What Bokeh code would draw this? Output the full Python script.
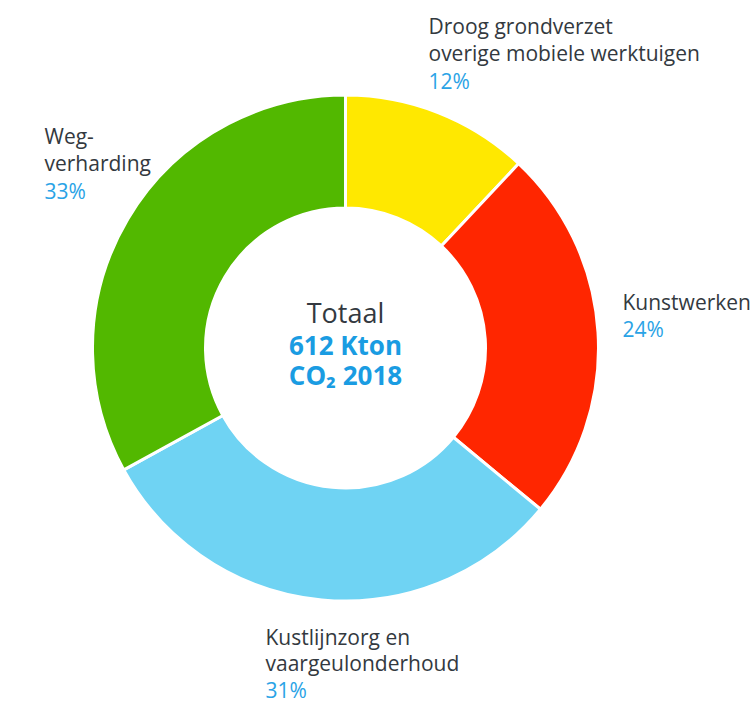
import math
from bokeh.plotting import figure
from bokeh.models import ColumnDataSource
from bokeh.core.properties import value
from bokeh.embed import file_html
from bokeh.resources import INLINE

# ---- data ----
categories = ["Droog grondverzet overige mobiele werktuigen", "Kunstwerken",
              "Kustlijnzorg en vaargeulonderhoud", "Wegverharding"]
shares = [12, 24, 31, 33]
label_lines = [["Droog grondverzet", "overige mobiele werktuigen"],
               ["Kunstwerken"],
               ["Kustlijnzorg en", "vaargeulonderhoud"],
               ["Weg-", "verharding"]]
colors = ["#ffe800", "#ff2600", "#6fd3f3", "#52b800"]
center_title = "Totaal"
center_lines = ["612 Kton", "CO\u2082 2018"]

# ---- layout (pixels) ----
W, H = 754, 704
cx, cy = 345, H - 347.5
r_in, r_out = 140, 253
label_anchor = [(428, H - 25), (622, H - 301), (265, H - 636), (44, H - 135)]
line_steps = [27.5, 27.5, 26.5, 27.5]
FONT = "Open Sans"
DARK = "#333940"
BLUE = "#2aa3e6"
CBLUE = "#1a9ce2"

p = figure(width=W, height=H, x_range=(0, W), y_range=(0, H),
           output_backend="svg", toolbar_location=None, min_border=0)
p.axis.visible = False
p.grid.visible = False
p.outline_line_color = None
p.background_fill_color = "white"
p.border_fill_color = "white"

total = sum(shares)
starts, ends = [], []
cum = 0
for s in shares:
    a0 = math.pi / 2 - 2 * math.pi * cum / total
    cum += s
    a1 = math.pi / 2 - 2 * math.pi * cum / total
    starts.append(a1)
    ends.append(a0)

src = ColumnDataSource(dict(start=starts, end=ends, color=colors,
                            x=[cx] * len(shares), y=[cy] * len(shares)))
p.annular_wedge(x="x", y="y", inner_radius=r_in, outer_radius=r_out,
                start_angle="start", end_angle="end", fill_color="color",
                line_color="white", line_width=3, source=src)

# labels
tx, ty, tt, tc = [], [], [], []
for (ax, ay), step, lines, s in zip(label_anchor, line_steps, label_lines, shares):
    for i, ln in enumerate(lines):
        tx.append(ax); ty.append(ay - i * step); tt.append(ln); tc.append(DARK)
    tx.append(ax); ty.append(ay - len(lines) * step); tt.append(f"{s}%"); tc.append(BLUE)
p.text(x=tx, y=ty, text=tt, text_color=tc, text_font=value(FONT),
       text_font_size="21px", text_baseline="middle", text_align="left")

# center
p.text(x=[cx], y=[H - 312], text=[center_title], text_color=DARK,
       text_font=value(FONT), text_font_size="27px", text_baseline="middle",
       text_align="center")
p.text(x=[cx, cx], y=[H - 344, H - 374], text=center_lines, text_color=CBLUE,
       text_font=value(FONT), text_font_size="26px", text_font_style="bold",
       text_baseline="middle", text_align="center")

open("out.html", "w").write(file_html(p, INLINE))
